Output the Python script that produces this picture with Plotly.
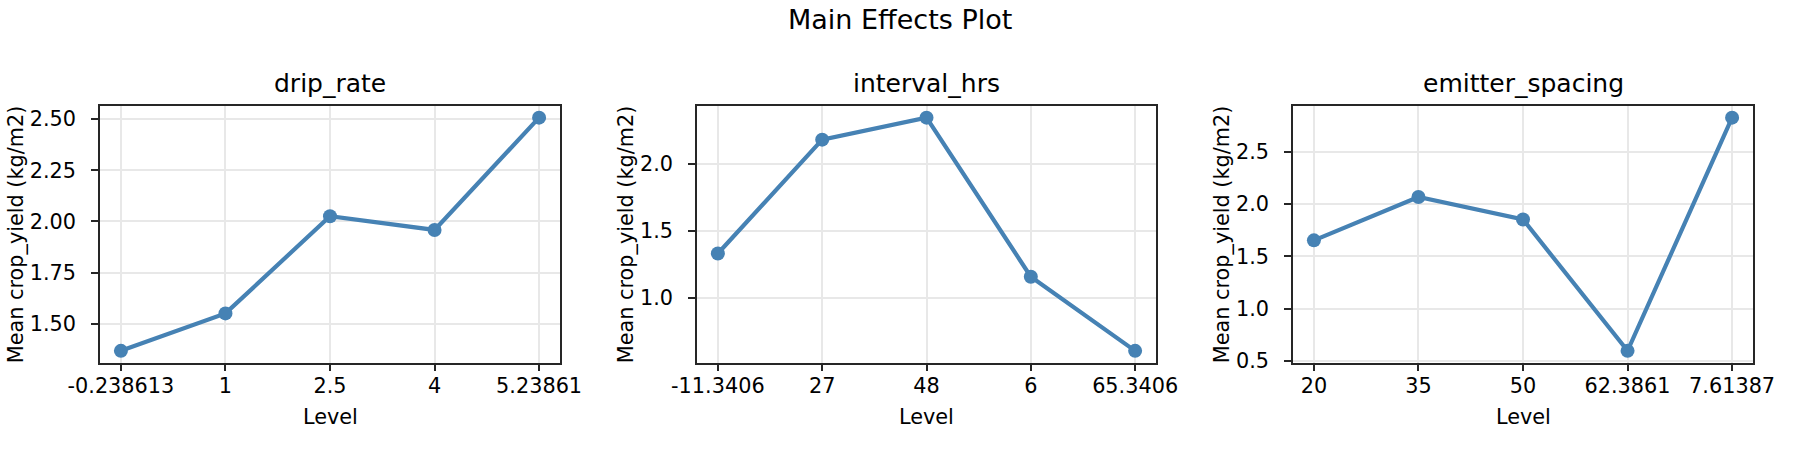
"""Main effects plot: mean crop yield per factor level."""
import plotly.graph_objects as go

FACTORS = ["drip_rate", "interval_hrs", "emitter_spacing"]

drip_rate_levels = ["-0.238613", "1", "2.5", "4", "5.23861"]
drip_rate_means = [1.367, 1.55, 2.025, 1.958, 2.507]

interval_hrs_levels = ["-11.3406", "27", "48", "6", "65.3406"]
interval_hrs_means = [1.332, 2.181, 2.345, 1.159, 0.606]

emitter_spacing_levels = ["20", "35", "50", "62.3861", "7.61387"]
emitter_spacing_means = [1.653, 2.067, 1.852, 0.598, 2.824]

Y_LABEL = "Mean crop_yield (kg/m2)"
X_LABEL = "Level"
TITLE = "Main Effects Plot"

STEEL = "#4682B4"
FRAME = "#262626"
GRID = "#e8e8e8"
FONT = "DejaVu Sans, Arial, sans-serif"

W, H = 1800, 450
# panel boxes in pixels (left, right), shared top/bottom
PANELS_PX = [(100, 560), (697, 1156), (1293, 1753)]
TOP_PX, BOTTOM_PX = 106, 362.5

series = [
    (drip_rate_levels, drip_rate_means, 0.25, ".2f"),
    (interval_hrs_levels, interval_hrs_means, 0.5, ".1f"),
    (emitter_spacing_levels, emitter_spacing_means, 0.5, ".1f"),
]


def px_x(x):
    return x / W


def px_y(y):
    return 1 - y / H


fig = go.Figure()
annotations = []

for i, (levels, means, dtick, fmt) in enumerate(series):
    n = "" if i == 0 else str(i + 1)
    fig.add_trace(go.Scatter(
        x=levels,
        y=means,
        mode="lines+markers",
        line=dict(color=STEEL, width=4.2),
        marker=dict(color=STEEL, size=14),
        xaxis="x" + n,
        yaxis="y" + n,
        showlegend=False,
    ))

    lo, hi = min(means), max(means)
    pad = 0.05 * (hi - lo)
    left, right = PANELS_PX[i]

    axis_common = dict(
        automargin=False,
        showline=True,
        mirror=True,
        linecolor=FRAME,
        linewidth=1.7,
        ticks="outside",
        ticklen=7,
        tickwidth=1.7,
        tickcolor=FRAME,
        showgrid=True,
        gridcolor=GRID,
        gridwidth=1.6,
        zeroline=False,
        tickfont=dict(family=FONT, size=20.8, color="black"),
    )
    fig.layout["xaxis" + n] = dict(
        axis_common,
        type="category",
        range=[-0.2, len(levels) - 0.8],
        domain=[px_x(left), px_x(right)],
        anchor="y" + n,
        ticklabelstandoff=-3,
    )
    fig.layout["yaxis" + n] = dict(
        axis_common,
        range=[lo - pad, hi + pad],
        dtick=dtick,
        tickformat=fmt,
        domain=[px_y(BOTTOM_PX), px_y(TOP_PX)],
        anchor="x" + n,
        ticklabelstandoff=11,
    )

    mid = (left + right) / 2
    annotations.append(dict(
        text=FACTORS[i], x=px_x(mid), y=px_y(83.6),
        xref="paper", yref="paper", xanchor="center", yanchor="middle",
        showarrow=False, font=dict(family=FONT, size=25, color="black"),
    ))
    annotations.append(dict(
        text=X_LABEL, x=px_x(mid), y=px_y(417),
        xref="paper", yref="paper", xanchor="center", yanchor="middle",
        showarrow=False, font=dict(family=FONT, size=20.8, color="black"),
    ))
    label_x = left - (84 if i == 0 else 71)
    annotations.append(dict(
        text=Y_LABEL, x=px_x(label_x), y=px_y((TOP_PX + BOTTOM_PX) / 2),
        xref="paper", yref="paper", xanchor="center", yanchor="middle",
        textangle=-90, showarrow=False,
        font=dict(family=FONT, size=20.8, color="black"),
    ))

annotations.append(dict(
    text=TITLE, x=0.5, y=px_y(19.4),
    xref="paper", yref="paper", xanchor="center", yanchor="middle",
    showarrow=False, font=dict(family=FONT, size=27, color="black"),
))

fig.update_layout(
    width=W,
    height=H,
    margin=dict(l=0, r=0, t=0, b=0),
    paper_bgcolor="white",
    plot_bgcolor="white",
    font=dict(family=FONT, color="black"),
    annotations=annotations,
)

# drop the browser's default body margin so the figure sits at (0, 0)
fig.write_html(
    "out.html",
    config={"displayModeBar": False},
    post_script="document.body.style.margin = '0';",
)
